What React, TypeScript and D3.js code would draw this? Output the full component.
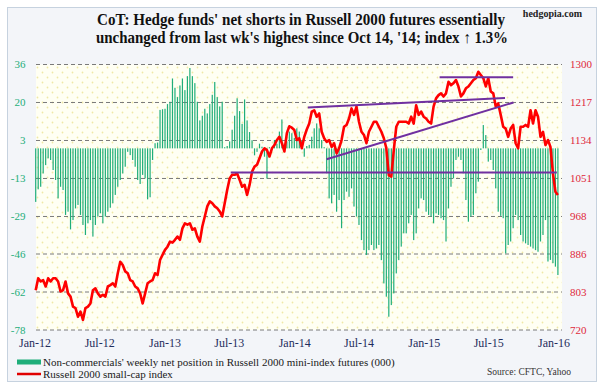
import * as d3 from 'd3';

const W = 602;
const H = 389;

// weekly CoT net position of non-commercials, Russell 2000 mini (000 contracts)
const netPositions = [
  -23, -17.6, -16.5, -10.8, -7.2, -4.3, -5, -9.3, -13.6, -21.5,
  -16.5, -17.9, -28.6, -27.2, -34.8, -30.8, -25.8, -24.3, -28.6, -32.9,
  -37.2, -32.2, -30.8, -37.9, -32.9, -29.3, -27.9, -32.2, -29.3, -27.2,
  -25.5,
  -23.6, -20, -16.5, -13.6, -10.8, -7.9, -1.5, -2.9, -5, -7.9,
  -13.6, -15.3, -11.4, -12.9, -21.9, -21, -5, 2.2, 2.5, 16.5,
  16.8, 17, 19, 20, 30, 26, 22, 27, 30, 25,
  31, 34.5, 31, 28, 20, 12, 14, 17, 15, 19,
  23, 28.5, 22, 18, 20, 0.5, 1, 3, 8, 14,
  21.5, 16, 10.5, 21, 12, 7, 3.5, -3, -1.5, 2,
  0.7, -3.6, -13, 0.5, -0.5, 3.6, 2, 7.2, 12.4, 2,
  3, 7.2, 6.5, 4.5, 8.6, 7.2, 3.6, -3.6,
  1,
  1.5, 5, 8.6, 10.7, 8.6, 3.6, 0.5,
  -10.7, -21.5, -23.6, -20, -27.2, -22.2, -34.3, -22.2, -18.6, -20.8,
  -17.2, -25, -29.3, -32.9, -39.4, -43.7, -45.8, -43.7, -41.5, -43.7,
  -43, -41.5, -48, -58, -63.7, -72.3, -67.3, -62.3, -53.7, -48,
  -42.2, -36.5, -36.5, -32.2, -28.6, -39.4, -36.5, -25.8, -21.5, -22.2,
  -27.2, -28.6, -29.3, -32.2, -27.9, -28.6, -30, -30.8, -40, -25.8,
  -16.5, -12.9, -5, -3.6, -5, -10.7, -22.2, -31.5, -29.3, -28.6,
  -19.3, -14.3, -0.7, 10, 5.7, -5.7, -5, -9.3, -17.2, -27.2,
  -29,
  -30, -45.1, -41.5, -40, -34.3, -28.6, -30.8, -37.2, -40, -40.8,
  -41.5, -42.2, -43, -43.7, -44.4, -40, -37.2, -30.8, -48.6, -47.9,
  -49.3, -50.8, -54.4,
];

// Russell 2000 weekly close
const russell = [
  807, 833, 826, 829, 815, 833, 826, 833, 833, 826,
  804, 807, 826, 800, 793, 771, 768, 749, 760, 742,
  768, 771, 778, 807, 811, 800, 793, 797, 793, 815,
  818,
  822, 815, 844, 869, 862, 848, 844, 829, 826, 815,
  811, 800, 778, 800, 822, 826, 829, 844, 840, 873,
  884, 895, 902, 913, 911, 917, 924, 917, 942, 953,
  950, 953, 939, 942, 924, 913, 946, 968, 990, 1001,
  997, 990, 986, 979, 968, 997, 1026, 1051, 1059, 1059,
  1062, 1048, 1033, 1037, 1015, 1037, 1066, 1077, 1081, 1095,
  1110, 1117, 1113, 1099, 1117, 1124, 1135, 1142, 1128, 1110,
  1150, 1165, 1162, 1157, 1135, 1139, 1117, 1142,
  1158,
  1171, 1197, 1200, 1186, 1193, 1153, 1139,
  1131, 1135, 1120, 1128, 1106, 1117, 1135, 1164, 1168, 1182,
  1204, 1190, 1208, 1175, 1153, 1146, 1128, 1153, 1164, 1175,
  1175, 1164, 1153, 1139, 1117, 1058, 1055, 1113, 1164, 1175,
  1175, 1175, 1175, 1171, 1186, 1171, 1211, 1190, 1197, 1186,
  1182, 1175, 1171, 1208, 1226, 1233, 1237, 1230, 1237, 1262,
  1255, 1259, 1266, 1252, 1230, 1237, 1248, 1252, 1259, 1266,
  1270, 1284, 1277, 1270, 1252, 1270, 1241, 1237, 1208, 1215,
  1190,
  1164, 1160, 1142, 1160, 1168, 1128, 1117, 1164, 1164, 1168,
  1164, 1200, 1171, 1200, 1186, 1142, 1153, 1124, 1135, 1120,
  1062, 1022, 1015,
];

const leftTicks = [36, 20, 3, -13, -29, -46, -62, -78];
const rightTicks = [1300, 1217, 1134, 1051, 968, 886, 803, 720];
const xTickLabels = ['Jan-12', 'Jul-12', 'Jan-13', 'Jul-13', 'Jan-14', 'Jul-14', 'Jan-15', 'Jul-15', 'Jan-16'];

// purple trend lines drawn on the index
const trendLines = [
  { from: '2013-07-05', to: '2016-01-09', v0: 1064, v1: 1064 },
  { from: '2014-02-07', to: '2015-08-16', v0: 1206, v1: 1227 },
  { from: '2014-04-01', to: '2015-09-09', v0: 1093, v1: 1217 },
  { from: '2015-02-13', to: '2015-09-08', v0: 1272, v1: 1272 },
];

const parse = d3.timeParse('%Y-%m-%d');
const firstWeek = parse('2012-01-03') as Date;
const weeks = netPositions.map((_, i) => d3.timeDay.offset(firstWeek, i * 7));

const plot = { left: 36, right: 562, top: 64.5, bottom: 330 };
const GREEN = '#1fae7a';
const serif = '"Liberation Serif", "Times New Roman", serif';

export default function App() {
  const x = d3.scaleTime()
    .domain([new Date(2012, 0, 1), new Date(2016, 0, 1)])
    .range([35, 554]);
  const yL = d3.scaleLinear().domain([-78, 36]).range([plot.bottom, plot.top]);
  const yR = d3.scaleLinear().domain([720, 1300]).range([plot.bottom, plot.top]);
  const tickDates = d3.timeMonth.every(6)!.range(new Date(2012, 0, 1), new Date(2016, 0, 2));

  const line = d3.line<number>()
    .x((_, i) => x(weeks[i]))
    .y(d => yR(d));

  return (
    <svg width={W} height={H} style={{ position: 'absolute', left: 0, top: 0 }} fontFamily={serif}>
      <defs>
        <pattern id="dots" width="10" height="10" patternUnits="userSpaceOnUse">
          <circle cx="2.5" cy="2.5" r="0.9" fill="#efe8a6" />
          <circle cx="7.5" cy="7.5" r="0.9" fill="#efe8a6" />
        </pattern>
      </defs>
      <rect x={0} y={0} width={W} height={H} fill="#ffffff" />
      <rect x={7.5} y={7.5} width={589} height={374} fill="#f3f5f9" stroke="#c6d2df" />

      <text x={301} y={25} textAnchor="middle" fontSize={16} fontWeight="bold" fill="#111"
        textLength={408} lengthAdjust="spacingAndGlyphs">
        CoT: Hedge funds' net shorts in Russell 2000 futures essentially
      </text>
      <text x={302} y={42.5} textAnchor="middle" fontSize={16} fontWeight="bold" fill="#111"
        textLength={412} lengthAdjust="spacingAndGlyphs">
        unchanged from last wk's highest since Oct 14, '14; index ↑ 1.3%
      </text>
      <text x={582} y={17} textAnchor="end" fontSize={10} fontWeight="bold" fill="#222">hedgopia.com</text>

      <rect x={plot.left} y={plot.top} width={plot.right - plot.left} height={plot.bottom - plot.top} fill="#fffff3" />
      <rect x={plot.left} y={plot.top} width={plot.right - plot.left} height={plot.bottom - plot.top} fill="url(#dots)" />

      {rightTicks.map((t, k) => (
        <g key={t}>
          <line x1={plot.left} x2={plot.right} y1={yR(t)} y2={yR(t)} stroke="#7a7a7a" strokeDasharray="4,3" />
          <text x={25.5} y={yR(t)} dy="0.35em" textAnchor="end" fontSize={11} fill={GREEN}>{leftTicks[k]}</text>
          <text x={570} y={yR(t)} dy="0.35em" fontSize={11} fill="#e0283a">{t}</text>
        </g>
      ))}

      {netPositions.map((v, i) => (
        <rect key={i} x={x(weeks[i]) - 0.6} width={1.2}
          y={Math.min(yL(v), yL(0))} height={Math.abs(yL(v) - yL(0))} fill={GREEN} />
      ))}

      <path d={line(russell) ?? ''} fill="none" stroke="#ff0000" strokeWidth={2.6} strokeLinejoin="round" />

      {trendLines.map((t, k) => (
        <line key={k} x1={x(parse(t.from) as Date)} x2={x(parse(t.to) as Date)}
          y1={yR(t.v0)} y2={yR(t.v1)} stroke="#7030a0" strokeWidth={2} />
      ))}

      {tickDates.map((d, k) => (
        <text key={k} x={x(d)} y={346.5} textAnchor="middle" fontSize={12} fill="#1f2d5c">{xTickLabels[k]}</text>
      ))}

      <rect x={17} y={359.5} width={24} height={5} fill={GREEN} />
      <text x={43} y={365.5} fontSize={11} fill="#1a1a1a">Non-commercials' weekly net position in Russell 2000 mini-index futures (000)</text>
      <line x1={17} x2={41} y1={374} y2={374} stroke="#e00000" strokeWidth={2.5} />
      <text x={43} y={378} fontSize={11} fill="#1a1a1a">Russell 2000 small-cap index</text>
      <text x={571} y={375} textAnchor="end" fontSize={9.5} fill="#333">Source: CFTC, Yahoo</text>
    </svg>
  );
}
